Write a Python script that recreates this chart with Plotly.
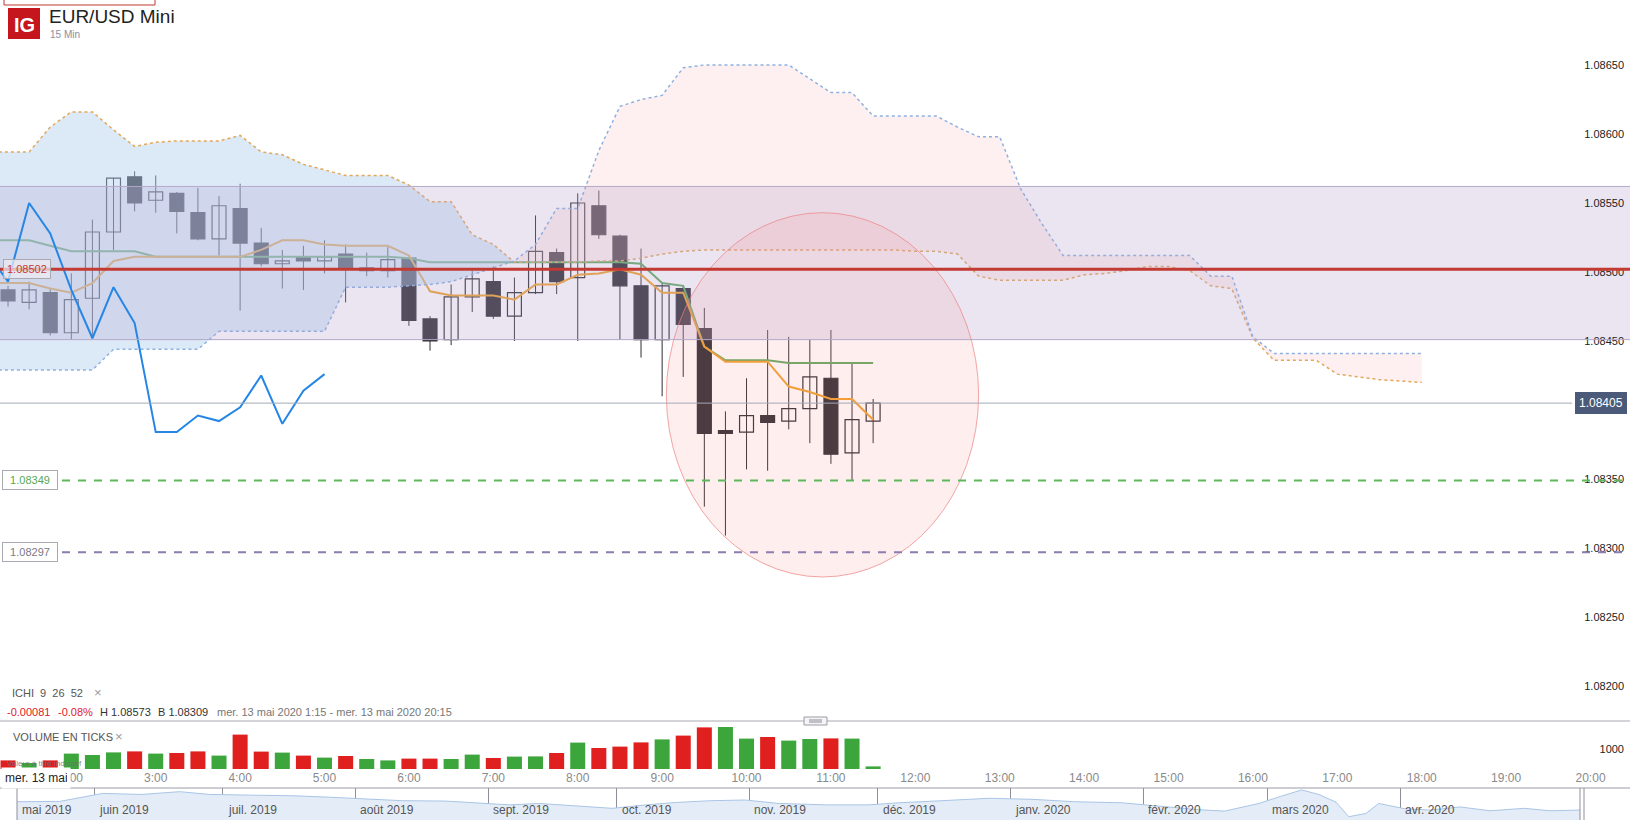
import plotly.graph_objects as go

W, H = 1630, 820


def px(x):
    return x / W


def py(y):
    return 1 - y / H


def hrs(s):
    h, m = s.split(':')
    return int(h) + int(m) / 60


def grid(start, n):
    t0 = hrs(start)
    return [t0 + k * 0.25 for k in range(n)]


# 15 min candles, mer. 13 mai 2020
candle_time = ['1:15', '1:30', '1:45', '2:00', '2:15', '2:30', '2:45', '3:00', '3:15', '3:30',
               '3:45', '4:00', '4:15', '4:30', '4:45', '5:00', '5:15', '5:30', '5:45', '6:00',
               '6:15', '6:30', '6:45', '7:00', '7:15', '7:30', '7:45', '8:00', '8:15', '8:30',
               '8:45', '9:00', '9:15', '9:30', '9:45', '10:00', '10:15', '10:30', '10:45', '11:00',
               '11:15', '11:30']
opens = [1.08487, 1.08478, 1.08485, 1.08456, 1.08481, 1.08529, 1.08569, 1.08552, 1.08557, 1.08543,
         1.08524, 1.08546, 1.08521, 1.08506, 1.08511, 1.08508, 1.08513, 1.08501, 1.08501, 1.08510,
         1.08466, 1.08451, 1.08482, 1.08493, 1.08468, 1.08485, 1.08514, 1.08496, 1.08548, 1.08526,
         1.08490, 1.08451, 1.08488, 1.08459, 1.08385, 1.08384, 1.08396, 1.08392, 1.08401, 1.08423,
         1.08369, 1.08392]
highs = [1.08490, 1.08493, 1.08488, 1.08499, 1.08538, 1.08568, 1.08573, 1.08570, 1.08558, 1.08561,
         1.08555, 1.08564, 1.08532, 1.08516, 1.08519, 1.08523, 1.08520, 1.08514, 1.08518, 1.08511,
         1.08468, 1.08491, 1.08501, 1.08504, 1.08496, 1.08541, 1.08517, 1.08557, 1.08559, 1.08527,
         1.08517, 1.08492, 1.08490, 1.08474, 1.08399, 1.08423, 1.08458, 1.08453, 1.08451, 1.08458,
         1.08434, 1.08408]
lows = [1.08475, 1.08473, 1.08454, 1.08451, 1.08452, 1.08516, 1.08544, 1.08543, 1.08528, 1.08523,
        1.08512, 1.08472, 1.08504, 1.08488, 1.08487, 1.08499, 1.08478, 1.08497, 1.08496, 1.08461,
        1.08443, 1.08447, 1.08471, 1.08466, 1.08450, 1.08484, 1.08484, 1.08450, 1.08524, 1.08451,
        1.08438, 1.08410, 1.08424, 1.08330, 1.08309, 1.08357, 1.08356, 1.08386, 1.08376, 1.08361,
        1.08349, 1.08376]
closes = [1.08479, 1.08487, 1.08456, 1.08480, 1.08529, 1.08568, 1.08550, 1.08558, 1.08544, 1.08524,
          1.08548, 1.08521, 1.08506, 1.08508, 1.08508, 1.08511, 1.08502, 1.08503, 1.08509, 1.08465,
          1.08450, 1.08482, 1.08495, 1.08468, 1.08485, 1.08515, 1.08493, 1.08550, 1.08527, 1.08490,
          1.08451, 1.08490, 1.08462, 1.08383, 1.08383, 1.08396, 1.08391, 1.08401, 1.08424, 1.08368,
          1.08393, 1.08405]
volume = [430, 300, 430, 770, 700, 830, 880, 770, 800, 880,
          670, 1720, 870, 820, 670, 570, 650, 500, 430, 520,
          520, 500, 720, 550, 620, 630, 800, 1320, 1050, 1120,
          1330, 1480, 1670, 2080, 2100, 1520, 1600, 1420, 1500, 1530,
          1520, 130]
volume_up = [0, 1, 0, 1, 1, 1, 0, 1, 0, 0, 1, 0, 0, 1, 0, 1, 0, 1, 1, 0,
             0, 1, 1, 0, 1, 1, 0, 1, 0, 0, 0, 1, 0, 0, 1, 1, 0, 1, 1, 0,
             1, 1]

# Ichimoku 9 26 52, from 1:00
tenkan = [1.08492, 1.08492, 1.08492, 1.08488, 1.08485, 1.08492, 1.08508, 1.08511, 1.08511, 1.08511,
          1.08511, 1.08511, 1.08511, 1.08516, 1.08523, 1.08523, 1.08520, 1.08519, 1.08519, 1.08519,
          1.08512, 1.08486, 1.08483, 1.08483, 1.08483, 1.08480, 1.08491, 1.08491, 1.08498, 1.08499,
          1.08502, 1.08498, 1.08485, 1.08485, 1.08446, 1.08435, 1.08435, 1.08435, 1.08417, 1.08413,
          1.08408, 1.08408, 1.08393]
kijun = [1.08523, 1.08523, 1.08523, 1.08519, 1.08515, 1.08515, 1.08515, 1.08515, 1.08511, 1.08511,
         1.08511, 1.08511, 1.08511, 1.08511, 1.08511, 1.08511, 1.08511, 1.08511, 1.08511, 1.08511,
         1.08510, 1.08507, 1.08507, 1.08507, 1.08507, 1.08507, 1.08507, 1.08507, 1.08507, 1.08507,
         1.08507, 1.08506, 1.08492, 1.08490, 1.08446, 1.08436, 1.08436, 1.08436, 1.08434, 1.08434,
         1.08434, 1.08434, 1.08434]
chikou = [1.08514, 1.08493, 1.08550, 1.08528, 1.08487, 1.08452, 1.08489, 1.08463, 1.08384, 1.08384,
          1.08396, 1.08392, 1.08402, 1.08425, 1.08390, 1.08414, 1.08426]
span_a = [1.08587, 1.08587, 1.08587, 1.08605, 1.08616, 1.08616, 1.08603, 1.08591, 1.08594, 1.08595,
          1.08595, 1.08595, 1.08599, 1.08587, 1.08585, 1.08578, 1.08574, 1.08570, 1.08570, 1.08570,
          1.08563, 1.08551, 1.08551, 1.08527, 1.08520, 1.08507, 1.08507, 1.08507, 1.08507, 1.08508,
          1.08508, 1.08510, 1.08513, 1.08515, 1.08516, 1.08516, 1.08516, 1.08516, 1.08516, 1.08516,
          1.08516, 1.08516, 1.08516, 1.08516, 1.08515, 1.08515, 1.08513, 1.08497, 1.08494, 1.08494,
          1.08494, 1.08494, 1.08498, 1.08499, 1.08501, 1.08504, 1.08504, 1.08501, 1.08490, 1.08488,
          1.08452, 1.08436, 1.08436, 1.08436, 1.08426, 1.08424, 1.08422, 1.08421, 1.08420]
span_b = [1.08429, 1.08429, 1.08429, 1.08429, 1.08429, 1.08429, 1.08444, 1.08444, 1.08444, 1.08444,
          1.08444, 1.08457, 1.08457, 1.08457, 1.08457, 1.08457, 1.08457, 1.08489, 1.08489, 1.08489,
          1.08490, 1.08491, 1.08493, 1.08498, 1.08503, 1.08508, 1.08520, 1.08546, 1.08546, 1.08588,
          1.08620, 1.08625, 1.08628, 1.08648, 1.08650, 1.08650, 1.08650, 1.08650, 1.08650, 1.08640,
          1.08630, 1.08630, 1.08613, 1.08613, 1.08613, 1.08613, 1.08605, 1.08598, 1.08598, 1.08560,
          1.08535, 1.08512, 1.08512, 1.08512, 1.08512, 1.08512, 1.08512, 1.08512, 1.08497, 1.08497,
          1.08453, 1.08441, 1.08441, 1.08441, 1.08441, 1.08441, 1.08441, 1.08441, 1.08441]

price_ticks = [1.0820, 1.0825, 1.0830, 1.0835, 1.0840, 1.0845, 1.0850, 1.0855, 1.0860, 1.0865]
hour_ticks = [2, 3, 4, 5, 6, 7, 8, 9, 10, 11, 12, 13, 14, 15, 16, 17, 18, 19, 20]

# drawn levels
zone_low, zone_high = 1.08451, 1.08562
red_level = 1.08502
last_price = 1.08405
green_level = 1.08349
purple_level = 1.08297

# navigator (1 year, daily EUR/USD)
nav_date = ['2019-05-14', '2019-05-24', '2019-06-03', '2019-06-12', '2019-06-21', '2019-06-28',
            '2019-07-08', '2019-07-18', '2019-07-26', '2019-08-05', '2019-08-12', '2019-08-22',
            '2019-08-30', '2019-09-06', '2019-09-13', '2019-09-23', '2019-09-30', '2019-10-08',
            '2019-10-15', '2019-10-23', '2019-10-31', '2019-11-08', '2019-11-19', '2019-11-29',
            '2019-12-06', '2019-12-16', '2019-12-27', '2020-01-06', '2020-01-16', '2020-01-27',
            '2020-02-05', '2020-02-14', '2020-02-20', '2020-02-28', '2020-03-04', '2020-03-09',
            '2020-03-13', '2020-03-17', '2020-03-20', '2020-03-24', '2020-03-27', '2020-04-02',
            '2020-04-08', '2020-04-15', '2020-04-22', '2020-04-30', '2020-05-06', '2020-05-13']
nav_value = [1.109, 1.110, 1.133, 1.130, 1.138, 1.130, 1.128, 1.126, 1.122, 1.116, 1.112, 1.111,
             1.104, 1.100, 1.104, 1.095, 1.090, 1.100, 1.107, 1.112, 1.114, 1.104, 1.100, 1.100,
             1.106, 1.112, 1.119, 1.116, 1.109, 1.106, 1.095, 1.086, 1.082, 1.104, 1.124, 1.143,
             1.130, 1.108, 1.066, 1.075, 1.104, 1.089, 1.085, 1.094, 1.083, 1.090, 1.083, 1.085]
nav_months = ['2019-06-01', '2019-07-01', '2019-08-01', '2019-09-01', '2019-10-01', '2019-11-01',
              '2019-12-01', '2020-01-01', '2020-02-01', '2020-03-01', '2020-04-01']
nav_labels = ['mai 2019', 'juin 2019', 'juil. 2019', 'août 2019', 'sept. 2019', 'oct. 2019',
              'nov. 2019', 'déc. 2019', 'janv. 2020', 'févr. 2020', 'mars 2020', 'avr. 2020']

DARK = '#2e2d33'
FONT = 'Arial, Liberation Sans, sans-serif'

t_candle = [hrs(s) for s in candle_time]
t_line = grid('1:00', len(tenkan))
t_chikou = grid('1:00', len(chikou))
t_cloud = grid('1:00', len(span_a))
k = 25  # cloud twist

fig = go.Figure()

# candles: wicks + bodies
wick_x, wick_y = [], []
for t, lo, hi in zip(t_candle, lows, highs):
    wick_x += [t, t, None]
    wick_y += [lo, hi, None]
fig.add_trace(go.Scatter(x=wick_x, y=wick_y, mode='lines', line=dict(color=DARK, width=1),
                         hoverinfo='skip'))
fig.add_trace(go.Bar(
    x=t_candle,
    y=[abs(c - o) for o, c in zip(opens, closes)],
    base=[min(o, c) for o, c in zip(opens, closes)],
    width=0.165,
    marker=dict(color=['#ffffff' if c > o else DARK for o, c in zip(opens, closes)],
                line=dict(color=DARK, width=1.2)),
    hoverinfo='skip'))

fig.add_trace(go.Scatter(x=t_line, y=kijun, mode='lines', line=dict(color='#62ab62', width=2),
                         hoverinfo='skip'))
fig.add_trace(go.Scatter(x=t_line, y=tenkan, mode='lines', line=dict(color='#f1a22c', width=2),
                         hoverinfo='skip'))

# kumo
fig.add_trace(go.Scatter(x=t_cloud[:k + 1] + t_cloud[:k + 1][::-1],
                         y=span_a[:k + 1] + span_b[:k + 1][::-1],
                         fill='toself', fillcolor='rgba(178,208,240,0.45)', mode='lines',
                         line=dict(width=0), hoverinfo='skip'))
fig.add_trace(go.Scatter(x=t_cloud[k:] + t_cloud[k:][::-1],
                         y=span_b[k:] + span_a[k:][::-1],
                         fill='toself', fillcolor='rgba(250,195,195,0.25)', mode='lines',
                         line=dict(width=0), hoverinfo='skip'))
fig.add_trace(go.Scatter(x=t_cloud, y=span_a, mode='lines',
                         line=dict(color='#e3a75a', width=1.5, dash='dot'), hoverinfo='skip'))
fig.add_trace(go.Scatter(x=t_cloud, y=span_b, mode='lines',
                         line=dict(color='#8db1e0', width=1.5, dash='dot'), hoverinfo='skip'))

# rectangle zone
fig.add_trace(go.Scatter(x=[0, 24, 24, 0], y=[zone_low, zone_low, zone_high, zone_high],
                         fill='toself', fillcolor='rgba(178,162,205,0.28)', mode='lines',
                         line=dict(width=0), hoverinfo='skip'))

fig.add_trace(go.Scatter(x=t_chikou, y=chikou, mode='lines', line=dict(color='#2586e6', width=2),
                         hoverinfo='skip'))

fig.add_trace(go.Bar(x=t_candle, y=volume, yaxis='y2', width=0.178,
                     marker=dict(color=['#3ca63c' if u else '#e01f1f' for u in volume_up],
                                 line=dict(width=0)),
                     hoverinfo='skip'))

fig.add_trace(go.Scatter(x=nav_date, y=nav_value, xaxis='x3', yaxis='y3', mode='lines',
                         fill='tozeroy', fillcolor='#e4edf7',
                         line=dict(color='#a9c5e6', width=1), hoverinfo='skip'))

shapes = [
    dict(type='rect', xref='paper', yref='paper', x0=px(4), x1=px(155), y0=py(5), y1=py(-10),
         line=dict(color='#c0392b', width=1), fillcolor='rgba(0,0,0,0)'),
    dict(type='rect', xref='paper', yref='paper', x0=px(8), x1=px(40), y0=py(39), y1=py(8),
         line=dict(width=0), fillcolor='#c4161c'),
    # tinted drawings on the price pane
    dict(type='circle', xref='x', yref='y', x0=9.05, x1=12.75, y0=1.08279, y1=1.08543,
         fillcolor='rgba(245,140,140,0.15)', line=dict(color='rgba(236,128,128,0.7)', width=1),
         layer='above'),
    dict(type='line', xref='paper', yref='y', x0=0, x1=1, y0=zone_high, y1=zone_high,
         line=dict(color='#b3a9c8', width=1), layer='above'),
    dict(type='line', xref='paper', yref='y', x0=0, x1=1, y0=zone_low, y1=zone_low,
         line=dict(color='#b3a9c8', width=1), layer='above'),
    dict(type='line', xref='paper', yref='y', x0=0, x1=1, y0=red_level, y1=red_level,
         line=dict(color='#c23a31', width=3), layer='above'),
    dict(type='line', xref='paper', yref='y', x0=0, x1=px(1572), y0=last_price, y1=last_price,
         line=dict(color='#a2aab6', width=1), layer='above'),
    dict(type='line', xref='paper', yref='y', x0=px(62), x1=1, y0=green_level, y1=green_level,
         line=dict(color='#5cb85c', width=2, dash='8px,8px'), layer='above'),
    dict(type='line', xref='paper', yref='y', x0=px(62), x1=1, y0=purple_level, y1=purple_level,
         line=dict(color='#8c7cb0', width=2, dash='8px,8px'), layer='above'),
    # pane separators
    dict(type='line', xref='paper', yref='paper', x0=0, x1=1, y0=py(721), y1=py(721),
         line=dict(color='#a9a9b2', width=1)),
    dict(type='rect', xref='paper', yref='paper', x0=px(804), x1=px(827), y0=py(725), y1=py(717),
         line=dict(color='#9a9aa4', width=1), fillcolor='#f5f5f7', layer='above'),
    dict(type='line', xref='paper', yref='paper', x0=px(809), x1=px(822), y0=py(720), y1=py(720),
         line=dict(color='#8a8a94', width=1), layer='above'),
    dict(type='line', xref='paper', yref='paper', x0=px(809), x1=px(822), y0=py(722), y1=py(722),
         line=dict(color='#8a8a94', width=1), layer='above'),
    dict(type='line', xref='paper', yref='paper', x0=0, x1=1, y0=py(788), y1=py(788),
         line=dict(color='#9a9aa8', width=1)),
    dict(type='line', xref='paper', yref='paper', x0=px(17), x1=px(17), y0=0, y1=py(788),
         line=dict(color='#8e8e9a', width=1)),
    dict(type='line', xref='paper', yref='paper', x0=px(1580), x1=px(1580), y0=0, y1=py(788),
         line=dict(color='#8e8e9a', width=1)),
    dict(type='line', xref='paper', yref='paper', x0=px(1584), x1=px(1584), y0=0, y1=py(788),
         line=dict(color='#8e8e9a', width=1)),
]


def note(text, x, y, size=11, color='#333', anchor='left', **kw):
    d = dict(text=text, xref='paper', yref='paper', x=px(x), y=py(y), xanchor=anchor,
             yanchor='middle', showarrow=False, font=dict(family=FONT, size=size, color=color))
    d.update(kw)
    return d


annotations = [
    note('<b>IG</b>', 24, 25, size=20, color='#ffffff', anchor='center'),
    note('EUR/USD Mini', 47, 16, size=19, color='#222222'),
    note('15 Min', 48, 34, size=10, color='#8a8ea0'),
    note('ICHI\u00a0\u00a09\u00a0\u00a026\u00a0\u00a052', 10, 693, size=11, color='#555555'),
    note('\u00d7', 92, 692, size=13, color='#9a9a9a'),
    note('-0.00081', 5, 712, size=11, color='#e0202a'),
    note('-0.08%', 56, 712, size=11, color='#e0202a'),
    note('H 1.08573', 98, 712, size=11, color='#333333'),
    note('B 1.08309', 156, 712, size=11, color='#333333'),
    note('mer. 13 mai 2020 1:15 - mer. 13 mai 2020 20:15', 215, 712, size=11, color='#777777'),
    note('VOLUME EN TICKS', 11, 737, size=11, color='#555555'),
    note('\u00d7', 113, 736, size=13, color='#9a9a9a'),
    note('Valeur \u00e0 titre indicatif', 5, 763, size=8, color='rgba(110,110,130,0.85)'),
    note('mer. 13 mai', 1, 778, size=12, color='#222222', bgcolor='#ffffff', width=62,
         align='left', borderpad=3),
    # price labels of drawn levels
    dict(text='1.08502', xref='paper', yref='y', x=px(3), y=red_level, xanchor='left',
         yanchor='middle', showarrow=False, font=dict(family=FONT, size=11, color='#c23a31'),
         bgcolor='rgba(238,235,242,0.72)', bordercolor='#a9a9b0', borderwidth=1, borderpad=3),
    dict(text='1.08349', xref='paper', yref='y', x=px(2), y=green_level, xanchor='left',
         yanchor='middle', showarrow=False, font=dict(family=FONT, size=11, color='#55a855'),
         bgcolor='#ffffff', bordercolor='#a9a9b0', borderwidth=1, borderpad=3, width=48),
    dict(text='1.08297', xref='paper', yref='y', x=px(2), y=purple_level, xanchor='left',
         yanchor='middle', showarrow=False, font=dict(family=FONT, size=11, color='#7a7a86'),
         bgcolor='#ffffff', bordercolor='#a9a9b0', borderwidth=1, borderpad=3, width=48),
    dict(text='1.08405', xref='paper', yref='y', x=px(1627), y=last_price, xanchor='right',
         yanchor='middle', showarrow=False, font=dict(family=FONT, size=12, color='#ffffff'),
         bgcolor='#4b5a78', bordercolor='#4b5a78', borderwidth=1, borderpad=3),
]
nav_pos = ['2019-05-14'] + nav_months
for d, lab in zip(nav_pos, nav_labels):
    annotations.append(dict(text=lab, xref='x3', yref='paper', x=d, y=py(810), xanchor='left',
                            yanchor='middle', xshift=3, showarrow=False,
                            font=dict(family=FONT, size=12, color='#555555')))

fig.update_layout(
    width=W, height=H,
    margin=dict(l=0, r=0, t=0, b=0),
    paper_bgcolor='#ffffff', plot_bgcolor='rgba(0,0,0,0)',
    showlegend=False, barmode='overlay',
    font=dict(family=FONT, color='#222222'),
    xaxis=dict(domain=[0, 1], range=[1.155, 20.4675], anchor='y2',
               tickvals=hour_ticks, ticktext=[f'{h}:00' for h in hour_ticks],
               tickfont=dict(size=12, color='#8a8a8a'), ticks='',
               showgrid=False, zeroline=False, showline=False),
    yaxis=dict(domain=[py(715), py(45)], range=[1.081790, 1.086645], anchor='free',
               position=px(1624), side='left', tickvals=price_ticks, tickformat='.5f',
               tickfont=dict(size=11, color='#222222'), ticks='',
               showgrid=False, zeroline=False, showline=False),
    yaxis2=dict(domain=[py(769), py(721)], range=[0, 2400], anchor='free',
                position=px(1624), side='left', tickvals=[1000],
                tickfont=dict(size=11, color='#222222'), ticks='',
                showgrid=False, zeroline=False, showline=False),
    xaxis3=dict(domain=[px(17), px(1580)], anchor='y3', type='date',
                range=['2019-05-14', '2020-05-13'], tickvals=nav_months, showticklabels=False,
                ticks='', showgrid=True, gridcolor='#8e8e9a', gridwidth=1, zeroline=False),
    yaxis3=dict(domain=[0, py(788)], range=[1.0564, 1.1486], anchor='x3', visible=False),
    shapes=shapes,
    annotations=annotations,
)

fig.write_html('out.html', config={'displayModeBar': False},
               post_script="document.body.style.margin='0';document.body.style.padding='0';")
